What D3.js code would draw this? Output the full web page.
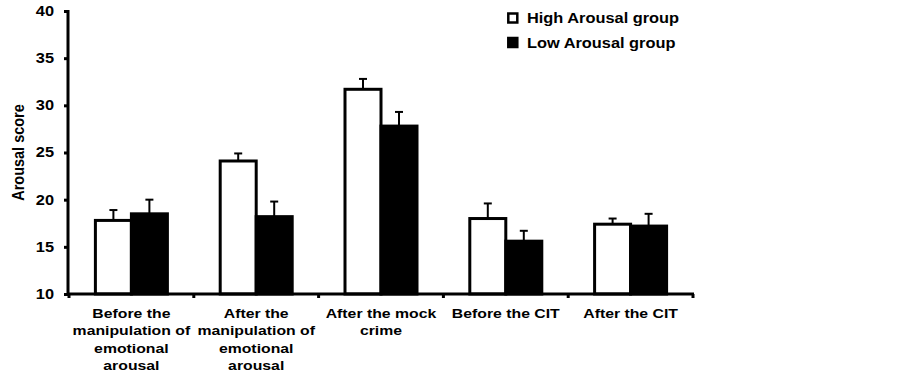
<!DOCTYPE html>
<html>
<head>
<meta charset="utf-8">
<script src="https://d3js.org/d3.v7.min.js"></script>
<style>
  body { margin: 0; background: #fff; }
  text { font-family: "Liberation Sans", Arial, sans-serif; font-weight: bold; fill: #000; }
</style>
</head>
<body>
<svg id="chart" width="903" height="379"></svg>
<script>
// category labels (each line separate)
var categories = [
  ["Before the", "manipulation of", "emotional", "arousal"],
  ["After the", "manipulation of", "emotional", "arousal"],
  ["After the mock", "crime"],
  ["Before the CIT"],
  ["After the CIT"]
];
var seriesNames = ["High Arousal group", "Low Arousal group"];
var highMeans = [17.8, 24.1, 31.7, 18.0, 17.4];
var highErr   = [1.1, 0.8, 1.1, 1.6, 0.6];
var lowMeans  = [18.5, 18.2, 27.8, 15.6, 17.2];
var lowErr    = [1.5, 1.6, 1.5, 1.1, 1.3];
var yTicks = [10, 15, 20, 25, 30, 35, 40];

var svg = d3.select("#chart");
var plotLeft = 69, plotRight = 693, plotTop = 11, plotBottom = 294;
var sx = 1.17; // the original figure text is a bit wide

var x = d3.scaleBand()
    .domain(d3.range(categories.length))
    .range([plotLeft, plotRight]);

var y = d3.scaleLinear()
    .domain([10, 40])
    .range([plotBottom, plotTop]);

var barW = 36;
var fills = ["#fff", "#000"];

var data = [];
categories.forEach(function(c, i) {
  data.push({cat: i, s: 0, v: highMeans[i], e: highErr[i]});
  data.push({cat: i, s: 1, v: lowMeans[i], e: lowErr[i]});
});

function bx(d) {
  return x(d.cat) + x.bandwidth() / 2 - barW + d.s * barW;
}

// error bars (upward only)
var eb = svg.append("g");
data.forEach(function(d) {
  var cx = bx(d) + barW / 2;
  eb.append("line")
    .attr("x1", cx).attr("x2", cx)
    .attr("y1", y(d.v)).attr("y2", y(d.v + d.e))
    .attr("stroke", "#000").attr("stroke-width", 2);
  eb.append("line")
    .attr("x1", cx - 4).attr("x2", cx + 4)
    .attr("y1", y(d.v + d.e)).attr("y2", y(d.v + d.e))
    .attr("stroke", "#000").attr("stroke-width", 2);
});

// bars
svg.append("g").selectAll("rect")
  .data(data)
  .enter().append("rect")
  .attr("x", bx)
  .attr("y", function(d) { return y(d.v); })
  .attr("width", barW)
  .attr("height", function(d) { return y(10) - y(d.v); })
  .attr("fill", function(d) { return fills[d.s]; })
  .attr("stroke", "#000")
  .attr("stroke-width", 3);

// y axis
var yAxis = svg.append("g")
  .attr("transform", "translate(" + plotLeft + ",0)")
  .call(d3.axisLeft(y).tickValues(yTicks).tickSize(5).tickPadding(5));
yAxis.select(".domain").attr("stroke-width", 3).attr("d", "M-1," + (plotTop - 1) + "V" + (plotBottom + 1));
yAxis.selectAll(".tick line").attr("stroke-width", 3);
yAxis.selectAll(".tick text")
  .attr("x", -15 / sx)
  .attr("transform", "scale(" + sx + ",1)")
  .style("font-size", "14px")
  .style("font-family", "'Liberation Sans', Arial, sans-serif").style("font-weight", "bold");

// x axis
var xAxis = svg.append("g").attr("transform", "translate(0," + plotBottom + ")");
xAxis.append("line")
  .attr("x1", plotLeft - 2).attr("x2", plotRight + 1)
  .attr("y1", 0).attr("y2", 0)
  .attr("stroke", "#000").attr("stroke-width", 3);
d3.range(categories.length + 1).forEach(function(i) {
  var px = i < categories.length ? x(i) : plotRight;
  xAxis.append("line")
    .attr("x1", px).attr("x2", px)
    .attr("y1", 0).attr("y2", 4)
    .attr("stroke", "#000").attr("stroke-width", 3);
});

categories.forEach(function(lines, i) {
  var t = svg.append("text")
    .attr("text-anchor", "middle")
    .attr("transform", "scale(" + sx + ",1)")
    .style("font-size", "13.5px");
  lines.forEach(function(l, j) {
    t.append("tspan")
      .attr("x", (x(i) + x.bandwidth() / 2) / sx)
      .attr("y", 318 + j * 17.5)
      .text(l);
  });
});

// y axis title
svg.append("text")
  .attr("transform", "translate(24," + ((plotTop + plotBottom) / 2) + ") rotate(-90) scale(1," + sx + ")")
  .attr("text-anchor", "middle")
  .style("font-size", "14.5px")
  .text("Arousal score");

// legend
var lg = svg.append("g").attr("transform", "translate(507,0)");
seriesNames.forEach(function(n, i) {
  lg.append("rect")
    .attr("x", 1.3).attr("y", 13.5 + i * 24.5)
    .attr("width", 9).attr("height", 9)
    .attr("fill", fills[i])
    .attr("stroke", "#000").attr("stroke-width", 2.5);
  lg.append("text")
    .attr("transform", "scale(" + sx + ",1)")
    .attr("x", 20 / sx).attr("y", 23.5 + i * 24.5)
    .style("font-size", "14px")
    .text(n);
});
</script>
</body>
</html>
